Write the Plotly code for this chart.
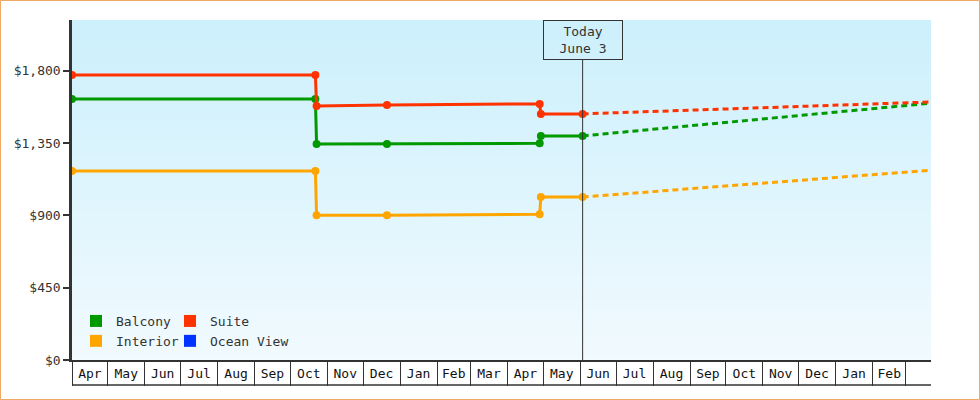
import pandas as pd
import plotly.graph_objects as go

# ---------------- data ----------------
month_labels = ["Apr", "May", "Jun", "Jul", "Aug", "Sep", "Oct", "Nov", "Dec", "Jan", "Feb", "Mar",
                "Apr", "May", "Jun", "Jul", "Aug", "Sep", "Oct", "Nov", "Dec", "Jan", "Feb"]
axis_start = "2024-04-01"
axis_end = "2026-03-22"
today = "2025-06-03"

hist_dates = ["2024-04-01", "2024-10-22", "2024-10-23", "2024-12-21",
              "2025-04-28", "2025-04-29", "2025-06-03"]
balcony_hist = [1624, 1624, 1344, 1344, 1348, 1394, 1394]
suite_hist = [1773, 1773, 1580, 1587, 1593, 1531, 1531]
interior_hist = [1176, 1176, 900, 900, 907, 1014, 1014]

forecast_dates = ["2025-06-03", "2026-03-21"]
balcony_fc = [1394, 1597]
suite_fc = [1531, 1605]
interior_fc = [1014, 1180]

y_ticks = [0, 450, 900, 1350, 1800]
y_max = 2115

series = [
    ("Balcony", "#009900", balcony_hist, balcony_fc, "legend"),
    ("Suite", "#ff3300", suite_hist, suite_fc, "legend2"),
    ("Interior", "#ffa500", interior_hist, interior_fc, "legend"),
    ("Ocean View", "#0033ff", None, None, "legend2"),
]

FONT = "DejaVu Sans Mono"
INK = "#333333"

# ---------------- figure ----------------
fig = go.Figure()

for name, color, hist, fc, leg in series:
    if hist is not None:
        fig.add_trace(go.Scatter(x=hist_dates, y=hist, mode="lines+markers", name=name,
                                 line=dict(color=color, width=3),
                                 marker=dict(color=color, size=8, symbol="circle"),
                                 showlegend=False, hoverinfo="x+y+name"))
        fig.add_trace(go.Scatter(x=forecast_dates, y=fc, mode="lines", name=name + " forecast",
                                 line=dict(color=color, width=3, dash="6px,4px"),
                                 showlegend=False))
    # legend entry (square swatch)
    fig.add_trace(go.Scatter(x=[None], y=[None], mode="markers", name=name,
                             marker=dict(color=color, size=12, symbol="square"),
                             legend=leg, showlegend=True))

month_starts = pd.date_range(axis_start, periods=len(month_labels) + 1, freq="MS")
month_mids = month_starts[:-1] + (month_starts[1:] - month_starts[:-1]) / 2

# plot area geometry (px) for paper-referenced decorations
L, R, T, B = 72, 49, 20, 40
W, H = 980, 400
PW, PH = W - L - R, H - T - B

shapes = []
# vertical gradient background of plot area
top_c = (204, 240, 252)
bot_c = (241, 250, 254)
n_bands = 68
for i in range(n_bands):
    f = i / (n_bands - 1)
    c = tuple(round(top_c[k] + (bot_c[k] - top_c[k]) * f) for k in range(3))
    shapes.append(dict(type="rect", xref="paper", yref="paper", x0=0, x1=1,
                       y0=1 - (i + 1) / n_bands, y1=1 - i / n_bands,
                       fillcolor="rgb(%d,%d,%d)" % c, line=dict(width=0), layer="below"))
# bottom line of the month boxes
shapes.append(dict(type="line", xref="paper", yref="paper", x0=0, x1=1,
                   y0=-25 / PH, y1=-25 / PH, line=dict(color=INK, width=1.5)))
# today marker line
shapes.append(dict(type="line", xref="x", yref="paper", x0=today, x1=today,
                   y0=0, y1=1 - 40 / PH, line=dict(color=INK, width=1)))
# outer border
shapes.append(dict(type="rect", xref="paper", yref="paper",
                   x0=(0.5 - L) / PW, x1=(W - 0.5 - L) / PW,
                   y0=-(B - 0.5) / PH, y1=(PH + T - 0.5) / PH,
                   line=dict(color="#f0aa64", width=1), fillcolor="rgba(0,0,0,0)"))

legend_common = dict(orientation="v", xanchor="left", yanchor="middle",
                     bgcolor="rgba(0,0,0,0)", font=dict(family=FONT, size=13, color=INK),
                     itemclick=False, itemdoubleclick=False, tracegroupgap=0)

fig.update_layout(
    width=W, height=H,
    margin=dict(l=L, r=R, t=T, b=B),
    paper_bgcolor="white",
    plot_bgcolor="#e6f7fd",
    font=dict(family=FONT, size=13, color=INK),
    shapes=shapes,
    showlegend=True,
    legend=dict(x=4 / PW, y=(360 - 331) / PH, **legend_common),
    legend2=dict(x=98 / PW, y=(360 - 331) / PH, **legend_common),
    annotations=[dict(x=today, y=1, xref="x", yref="paper", xanchor="center", yanchor="top",
                      text="Today<br>June 3", showarrow=False, width=76, height=36,
                      borderpad=1, borderwidth=1, bordercolor=INK, bgcolor="rgba(0,0,0,0)",
                      font=dict(family=FONT, size=13, color=INK))],
    hovermode="closest",
)

fig.update_xaxes(
    type="date", range=[axis_start, axis_end],
    tickmode="array", tickvals=list(month_mids), ticktext=month_labels,
    ticks="", showgrid=False, zeroline=False,
    showline=True, linecolor=INK, linewidth=2,
    tickfont=dict(family=FONT, size=13, color="#111111"),
    minor=dict(tickmode="array", tickvals=list(month_starts), ticks="outside",
               ticklen=24, tickwidth=1, tickcolor=INK, showgrid=False),
)
fig.update_yaxes(
    range=[0, y_max], tickmode="array", tickvals=y_ticks, tickformat="$,",
    ticks="outside", ticklen=6, tickwidth=2, tickcolor=INK,
    showline=True, linecolor=INK, linewidth=2.5, showgrid=False, zeroline=False,
    tickfont=dict(family=FONT, size=13, color=INK),
)

fig.write_html("out.html")
